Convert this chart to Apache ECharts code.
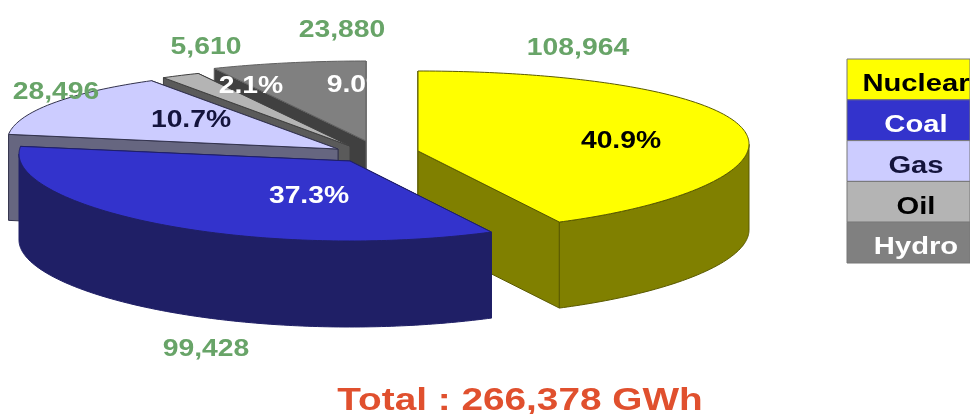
<!DOCTYPE html>
<html>
<head>
<meta charset="utf-8">
<title>Generation by source</title>
<script src="https://cdn.jsdelivr.net/npm/echarts@6/dist/echarts.min.js"></script>
<style>html,body{margin:0;padding:0;background:#fff}#chart{width:970px;height:414px}</style>
</head>
<body>
<div id="chart"></div>
<script>
// Generation by source, in GWh
const categories = ['Nuclear', 'Coal', 'Gas', 'Oil', 'Hydro'];
const generation = [108964, 99428, 28496, 5610, 23880];
const totalLabel = 'Total : 266,378 GWh';

// Slice styling
const topColors = ['#FFFF00', '#3333CC', '#CCCCFF', '#B4B4B4', '#808080'];
const wallColors = ['#808000', '#1F1F66', '#666680', '#5A5A5A', '#404040'];
const edgeColors = ['#5A5A00', '#1F1F66', '#33334D', '#404040', '#606060'];
const percentColors = ['#000000', '#FFFFFF', '#14143C', '#FFFFFF', '#FFFFFF'];
const legendTextColors = ['#000000', '#FFFFFF', '#14143C', '#000000', '#FFFFFF'];
const valueColor = '#68A468';

// Pie layout: exploded slice apexes, tilt ellipse, thickness, paint order
const apexes = [[418, 151], [350, 161], [338, 149], [350, 146], [366, 141]];
const radiusX = 331, radiusY = 80, rimLift = 7, thickness = 86;
const paintRank = [3, 4, 2, 1, 0];
const percentAnchors = [[621, 140], [309, 195], [191, 119], [251, 85], [359, 84]];
const valueAnchors = [[578, 47], [206, 348], [56, 91], [206, 46], [342, 29]];
const legendBox = { x: 847, y: 59, width: 123, rowHeight: 40.8, textCenter: 916, textDrop: 3.5 };

// Text in the figure is horizontally stretched
const fontFamily = '"Liberation Sans", Arial, sans-serif';
const stretch = 1.23;
const textNudge = 2;

const total = generation.reduce((a, b) => a + b, 0);
const startAngles = [];
generation.reduce((acc, v, i) => { startAngles[i] = acc; return acc + v / total * 360; }, 0);

// Perspective warp of the pie angle onto the tilted ellipse
function warp(deg) {
  const r = deg * Math.PI / 180;
  return deg + 2.21 * Math.sin(r) - 3.24 * Math.sin(2 * r) - 3.24 * Math.sin(4 * r) + 3.07 * Math.sin(6 * r);
}
function rim(apex, deg) {
  const r = warp(deg) * Math.PI / 180;
  const s = Math.sin(r), c = Math.cos(r);
  return [apex[0] + radiusX * s, apex[1] - radiusY * c - rimLift * s * s];
}
const facesViewer = deg => Math.cos(warp(deg) * Math.PI / 180) <= 0;
const lowered = p => [p[0], p[1] + thickness];

function textEl(str, x, y, size, fill, z2, scale) {
  return {
    type: 'text', x, y: y + textNudge, scaleX: scale, scaleY: 1, z2,
    style: { text: str, x: 0, y: 0, align: 'center', verticalAlign: 'middle',
      fill, fontFamily, fontWeight: 'bold', fontSize: size }
  };
}

function renderSlice(params, api) {
  const i = params.dataIndex;
  const apex = apexes[i];
  const start = startAngles[i];
  const end = start + api.value(0) / total * 360;
  const base = paintRank[i] * 10 + 1;
  const arc = [];
  const frontArc = [];
  const steps = Math.ceil(end - start);
  for (let s = 0; s <= steps; s++) {
    const deg = start + (end - start) * s / steps;
    const p = rim(apex, deg);
    arc.push(p);
    if (facesViewer(deg)) frontArc.push(p);
  }
  const first = arc[0], last = arc[arc.length - 1];
  const wallStyle = { fill: wallColors[i], stroke: edgeColors[i], lineWidth: 1 };

  // The nearer cut face goes over the farther one; the rim wall closes the front
  const startNearer = first[1] > last[1];
  const faceZ = startNearer ? [base + 2, base + 1] : [base + 1, base + 2];
  const children = [
    { type: 'polygon', z2: faceZ[0], shape: { points: [apex, first, lowered(first), lowered(apex)] }, style: wallStyle },
    { type: 'polygon', z2: faceZ[1], shape: { points: [apex, last, lowered(last), lowered(apex)] }, style: wallStyle },
    { type: 'polygon', z2: base + 4, shape: { points: [apex].concat(arc) },
      style: { fill: topColors[i], stroke: edgeColors[i], lineWidth: 1 } }
  ];
  if (frontArc.length > 1) {
    children.push({ type: 'polygon', z2: base + 3,
      shape: { points: frontArc.concat(frontArc.map(lowered).reverse()) }, style: wallStyle });
  }
  return { type: 'group', children };
}

function renderLabels(params, api) {
  const i = params.dataIndex;
  const pct = (api.value(0) / total * 100).toFixed(1) + '%';
  const v = api.value(0).toLocaleString('en-US');
  return { type: 'group', children: [
    textEl(pct, percentAnchors[i][0], percentAnchors[i][1], 23, percentColors[i], 100, stretch),
    textEl(v, valueAnchors[i][0], valueAnchors[i][1], 23, valueColor, 100, stretch)
  ]};
}

function renderLegendRow(params) {
  const i = params.dataIndex;
  const b = legendBox;
  const y = b.y + i * b.rowHeight;
  return { type: 'group', children: [
    { type: 'rect', z2: 1, shape: { x: b.x, y, width: b.width, height: b.rowHeight },
      style: { fill: topColors[i], stroke: '#777777', lineWidth: 1 } },
    textEl(categories[i], b.textCenter, y + b.rowHeight / 2 + b.textDrop, 23, legendTextColors[i], 2, 1.27)
  ]};
}

const chart = echarts.init(document.getElementById('chart'), null, { renderer: 'canvas' });
chart.setOption({
  animation: false,
  backgroundColor: '#ffffff',
  series: [
    { type: 'custom', coordinateSystem: 'none', silent: true, data: generation, renderItem: renderSlice, z: 1 },
    { type: 'custom', coordinateSystem: 'none', silent: true, data: generation, renderItem: renderLabels, z: 2 },
    { type: 'custom', coordinateSystem: 'none', silent: true, data: categories.map((c, i) => i), renderItem: renderLegendRow, z: 3 },
    { type: 'custom', coordinateSystem: 'none', silent: true, data: [0], z: 4,
      renderItem: () => textEl(totalLabel, 520, 399, 31, '#E0502E', 1, 1.25) }
  ]
});
</script>
</body>
</html>
